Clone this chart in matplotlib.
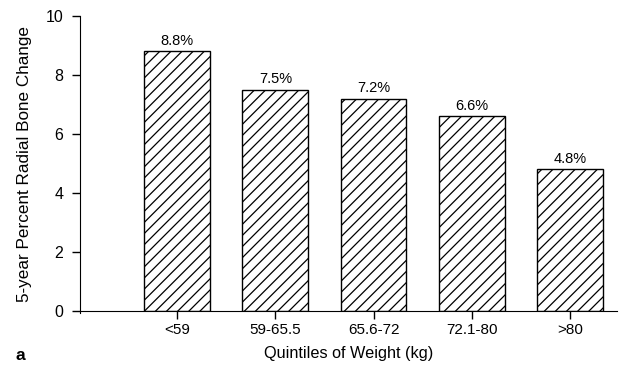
import matplotlib
matplotlib.use("Agg")
import matplotlib.pyplot as plt

categories = ["<59", "59-65.5", "65.6-72", "72.1-80", ">80"]
values = [8.8, 7.5, 7.2, 6.6, 4.8]
labels = ["8.8%", "7.5%", "7.2%", "6.6%", "4.8%"]
yticks = [0, 2, 4, 6, 8, 10]

plt.rcParams['font.family'] = ['Liberation Sans', 'DejaVu Sans']
plt.rcParams['hatch.linewidth'] = 0.9

fig = plt.figure(figsize=(6.37, 3.70), dpi=100)
ax = fig.add_axes([80/637, 1-311/370, (617-80)/637, (311-16)/370])

x = list(range(len(categories)))
bars = ax.bar(x, values, width=0.67, facecolor='white', edgecolor='black',
              linewidth=1.0, hatch='///')
for xi, v, lab in zip(x, values, labels):
    ax.text(xi, v + 0.12, lab, ha='center', va='bottom', fontsize=10.5)

ax.set_xlim(-0.99, 4.48)
ax.set_ylim(0, 10)
ax.set_yticks(yticks)
ax.set_xticks(x)
ax.set_xticklabels(categories, fontsize=11)
ax.tick_params(axis='y', labelsize=11.5, length=6, width=1, pad=6)
ax.tick_params(axis='x', length=6, width=1, pad=3)
ax.spines['top'].set_visible(False)
ax.spines['right'].set_visible(False)
ax.spines['left'].set_bounds(-0.08, 10)
ax.set_ylabel("5-year Percent Radial Bone Change", fontsize=12.3, labelpad=10)
ax.set_xlabel("Quintiles of Weight (kg)", fontsize=11.7, labelpad=6)
fig.text(15/637, 1-356/370, "a", fontsize=12.5, fontweight='bold', va='center')

fig.savefig("out.png", dpi=100)
